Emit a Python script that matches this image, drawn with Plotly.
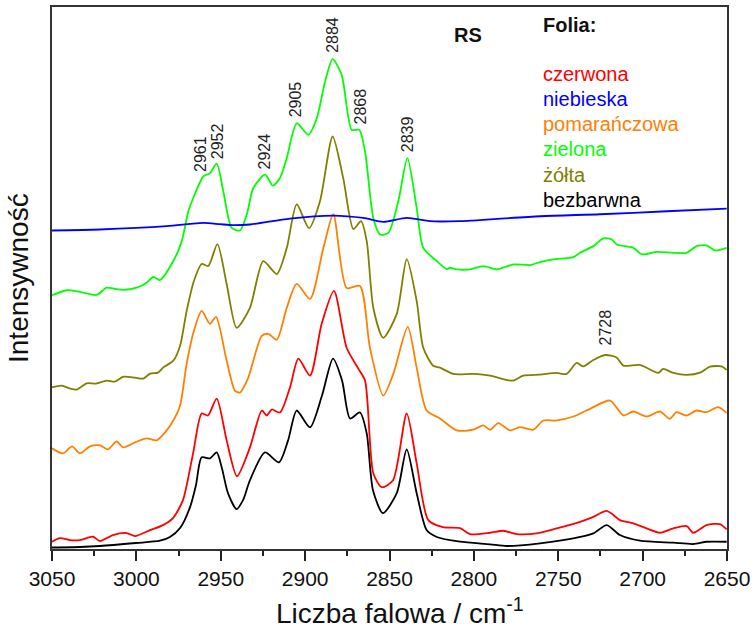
import plotly.graph_objects as go

# ---------------- data (arbitrary intensity units) ----------------
series_names = ["czerwona", "niebieska", "pomarańczowa", "zielona", "żółta", "bezbarwna"]

black_x = [3050, 3033.4, 3021.6, 3000.2, 2986, 2980.1, 2974.1, 2968.2, 2964.7, 2961.3, 2956.4, 2952.4,
           2949.3, 2945.7, 2940.6, 2936.8, 2932.7, 2923.8, 2915.5, 2910.1, 2905, 2897.1, 2890, 2883.5,
           2878.1, 2873.4, 2867.5, 2863.5, 2859.8, 2853.9, 2845.7, 2839.8, 2833.9, 2828, 2822, 2808.2,
           2790.4, 2780.5, 2760.8, 2741.1, 2729.2, 2721.3, 2713.4, 2701.6, 2681.8, 2670, 2662.1, 2650.2]
black_y = [1.5, 2, 3, 6, 8.3, 12, 21, 42, 64, 92, 91, 97,
           81, 56, 40, 49, 69, 97, 87, 109, 139, 122, 154, 191,
           169, 131, 137, 116, 59, 36, 56, 100, 56, 19, 12, 7.3,
           4.7, 3, 5.7, 10.7, 15.7, 24, 14, 8.3, 6.3, 5, 7.3, 7.3]

red_x = [3050, 3045.3, 3039.3, 3033.4, 3025.7, 3021.6, 3013.9, 3005.7, 3000.8, 2991.9, 2984.2, 2978.3,
         2972.4, 2966.4, 2961.3, 2957.6, 2952.4, 2946.5, 2940.4, 2932.7, 2925.7, 2922.8, 2919.8, 2914.9,
         2909, 2904, 2897.1, 2890.2, 2882.9, 2875.4, 2868.5, 2864.5, 2859.6, 2854.6, 2847.9, 2839.8,
         2833.9, 2827, 2818.3, 2808.2, 2802.3, 2790.4, 2782.6, 2774.6, 2762.8, 2750.9, 2737.1, 2729.2,
         2721.3, 2713.4, 2705.5, 2697.6, 2689.7, 2681.8, 2673.9, 2670, 2662.1, 2654.2, 2650.2]
red_y = [7.3, 11, 9, 9, 12.3, 8, 14, 16, 13, 19, 24, 31,
         49, 96, 136, 134, 151, 109, 73, 102, 139, 134, 140, 137,
         162, 191, 174, 226, 259, 202, 181, 169, 76, 62, 69, 136,
         86, 29, 22, 21, 15, 16.3, 18.3, 15, 15.7, 20.7, 27.3, 32.3,
         38.3, 29, 25.7, 20.7, 16.3, 20.7, 23, 16.3, 24, 25, 19.7]

orange_x = [3050, 3043.5, 3038.1, 3033.4, 3027.5, 3021.6, 3016.8, 3011.7, 3007.9, 3000.8, 2993.9, 2988,
            2983, 2978.1, 2974.1, 2970.2, 2965.9, 2961.3, 2956.4, 2952.8, 2946.5, 2941.6, 2938.6, 2933.7,
            2925.7, 2921.8, 2916.8, 2910.9, 2905, 2897.1, 2889.2, 2883.3, 2875.4, 2867.5, 2861.6, 2853.7,
            2847.7, 2839.2, 2833.9, 2828, 2820.1, 2810.2, 2800.4, 2794.4, 2790.4, 2785.5, 2778.6, 2772.7,
            2764.8, 2758.8, 2750.9, 2741.1, 2731.2, 2719.3, 2711.4, 2705.5, 2697.6, 2689.7, 2683.9, 2679.9,
            2674, 2668.1, 2662.1, 2655.3, 2650.2]
orange_y = [101, 96, 103, 96, 103, 104, 100, 108, 102, 107, 111, 109,
            117, 129, 144, 186, 219, 239, 226, 233, 189, 159, 157, 172,
            214, 216, 210, 242, 266, 251, 302, 336, 262, 264, 202, 154,
            176, 223, 182, 139, 131, 119, 119.7, 124, 119.7, 126.3, 119, 122.3,
            119.7, 129, 129, 133, 140.7, 149, 134, 138, 133, 138, 130.7, 137.3,
            134, 139, 137.3, 142.3, 136.3]

green_x = [3050, 3041.3, 3033.4, 3023.5, 3017.6, 3012.7, 3007.7, 2999.8, 2993.9, 2990, 2986, 2978.1,
           2973.1, 2969.2, 2966.3, 2960.3, 2956.4, 2952.4, 2948.5, 2943.5, 2938.6, 2934.6, 2930.7, 2923.7,
           2919.2, 2914.9, 2910.9, 2905, 2898.1, 2893.1, 2888.2, 2883.7, 2878.3, 2872.4, 2867.9, 2864.5,
           2859.6, 2855.6, 2850.7, 2844.8, 2839.4, 2833.9, 2830, 2822, 2816.1, 2814.2, 2810.2, 2802.3,
           2794.4, 2786.5, 2776.6, 2766.8, 2760.8, 2752.9, 2741.1, 2737.1, 2729.2, 2723.3, 2718.3, 2715.4,
           2705.5, 2700.5, 2691.7, 2681.8, 2673.9, 2668, 2662.1, 2657.2, 2650.2]
green_y = [254.7, 259.7, 258, 255, 262.3, 261, 260, 262.3, 267.3, 273, 270, 289,
           309, 339, 352.3, 374, 377.3, 386.7, 359, 322.3, 319.7, 335.7, 362.3, 375.7,
           364.7, 372.3, 392.3, 427.3, 415.7, 432.3, 469, 491.7, 475.7, 420.7, 420.7, 399,
           332.3, 315.7, 317.3, 349, 392.3, 342.3, 302.3, 289, 281, 282.3, 280.7, 280.7,
           284, 280.7, 285.7, 285, 288, 290.7, 293, 297.3, 304, 311.7, 310.7, 305.7,
           302.3, 295.7, 298.3, 297.3, 297.3, 304, 304.7, 299.7, 302.3]

olive_x = [3050, 3044.3, 3039.3, 3035.4, 3029.4, 3023.9, 3017.6, 3012.7, 3007.7, 3000.8, 2995.9, 2991.9,
           2987.2, 2984, 2978.1, 2974.1, 2970.2, 2965.9, 2961.3, 2957.4, 2952, 2946.5, 2940.6, 2932.7,
           2924.8, 2916.8, 2910.9, 2905, 2897.7, 2891.2, 2883.7, 2877.4, 2871.4, 2866.9, 2863.5, 2859.6,
           2853.7, 2845.7, 2839.8, 2833.9, 2830, 2824.1, 2820.1, 2812.2, 2800.4, 2790.4, 2780.5, 2776.6,
           2770.7, 2760.8, 2750.9, 2745, 2739.1, 2735.1, 2729.2, 2722.3, 2715.4, 2711.4, 2701.6, 2690.7,
           2687.8, 2681.8, 2673.9, 2665.5, 2660.1, 2653.2, 2650.2]
olive_y = [162.3, 164, 161, 160, 166.3, 166, 169, 168, 173, 172, 171, 176,
           177, 182.3, 189, 204, 239, 269, 286, 284, 306, 266, 222, 242,
           289, 276, 302, 346, 322, 349, 414, 372, 321, 329, 309, 242,
           212, 236, 291, 249, 202, 184, 182, 175.7, 175.7, 174, 169.7, 169,
           174, 175, 176.7, 175.7, 186.7, 183.3, 189.7, 194.7, 192.3, 184, 184.7, 176.7,
           180.7, 176.7, 174.7, 177.3, 183, 183.3, 179.7]

blue_x = [3050, 3021.6, 2982, 2960.3, 2950.4, 2942.6, 2932.7, 2909, 2883.3, 2865.5, 2853.7, 2839.8,
          2826, 2808.2, 2802.3, 2760.8, 2725.3, 2685.7, 2650.2]
blue_y = [319.7, 320.7, 324, 327.3, 326, 325, 325.7, 331.7, 334.7, 332.3, 328.3, 332.3,
          329, 329, 329.5, 334, 336, 339, 341.7]

x_tick_values = [3050, 3000, 2950, 2900, 2850, 2800, 2750, 2700, 2650]
x_tick_labels = ["3050", "3000", "2950", "2900", "2850", "2800", "2750", "2700", "2650"]

peak_labels = ["2961", "2952", "2924", "2905", "2884", "2868", "2839", "2728"]

# ---------------- styling / positions ----------------
peak_label_x = [2962, 2951.8, 2923.8, 2905.6, 2883.5, 2867, 2839.2, 2721.9]
peak_label_y = [396, 409, 399, 451, 516, 444, 416, 222]

colors = {"czerwona": "#FF0000", "niebieska": "#0000FF", "pomarańczowa": "#FF8000",
          "zielona": "#00FF00", "żółta": "#808000", "bezbarwna": "#000000"}

FONT = "Arial, Liberation Sans, sans-serif"

series = [
    ("bezbarwna", black_x, black_y),
    ("czerwona", red_x, red_y),
    ("pomarańczowa", orange_x, orange_y),
    ("żółta", olive_x, olive_y),
    ("zielona", green_x, green_y),
    ("niebieska", blue_x, blue_y),
]

fig = go.Figure()
for name, xs, ys in series:
    fig.add_trace(go.Scatter(
        x=xs, y=ys, name=name, mode="lines",
        line=dict(color=colors[name], width=1.8, shape="spline", smoothing=0.7),
        showlegend=False, hoverinfo="x+y+name",
    ))

annotations = []
for txt, px_, py_ in zip(peak_labels, peak_label_x, peak_label_y):
    annotations.append(dict(x=px_, y=py_, xref="x", yref="y", text=txt, showarrow=False,
                            textangle=-90, xanchor="center", yanchor="middle",
                            font=dict(family=FONT, size=16, color="#222222")))

# plot area in pixels: x 52..727, y 5..549
def px_to_paper_x(px):
    return (px - 52) / 675.0

def px_to_paper_y(py):
    return (549 - py) / 544.0

annotations.append(dict(x=px_to_paper_x(468), y=px_to_paper_y(33), xref="paper", yref="paper",
                        text="<b>RS</b>", showarrow=False, xanchor="center", yanchor="middle",
                        font=dict(family=FONT, size=20, color="#111111")))
annotations.append(dict(x=px_to_paper_x(541), y=px_to_paper_y(23), xref="paper", yref="paper",
                        text="<b>Folia:</b>", showarrow=False, xanchor="left", yanchor="middle",
                        font=dict(family=FONT, size=20, color="#111111")))
for i, name in enumerate(series_names):
    annotations.append(dict(x=px_to_paper_x(541), y=px_to_paper_y(72 + 25.3 * i), xref="paper", yref="paper",
                            text=name, showarrow=False, xanchor="left", yanchor="middle",
                            font=dict(family=FONT, size=20, color=colors[name])))

# axis titles
annotations.append(dict(x=px_to_paper_x(400), y=0, xref="paper", yref="paper",
                        text="Liczba falowa / cm<sup>-1</sup>", showarrow=False,
                        xanchor="center", yanchor="middle", yshift=-62,
                        font=dict(family=FONT, size=28, color="#111111")))
annotations.append(dict(x=0, y=0.5, xref="paper", yref="paper",
                        text="Intensywność", showarrow=False, textangle=-90,
                        xanchor="center", yanchor="middle", xshift=-34,
                        font=dict(family=FONT, size=28, color="#111111")))

fig.update_layout(
    width=755, height=632,
    margin=dict(l=52, r=28, t=5, b=83),
    paper_bgcolor="white", plot_bgcolor="white",
    annotations=annotations,
    font=dict(family=FONT, color="#111111"),
)
fig.update_xaxes(
    range=[3050, 2650], tickmode="array", tickvals=x_tick_values, ticktext=x_tick_labels,
    ticks="outside", ticklen=10, tickwidth=1.5, tickcolor="#222222",
    minor=dict(dtick=25, ticks="outside", ticklen=5, tickwidth=1.5, tickcolor="#222222"),
    showline=True, linecolor="#333333", linewidth=2, mirror=True,
    showgrid=False, zeroline=False,
    tickfont=dict(family=FONT, size=21, color="#111111"),
)
fig.update_yaxes(
    range=[0, 544], showticklabels=False, ticks="",
    showline=True, linecolor="#333333", linewidth=2, mirror=True,
    showgrid=False, zeroline=False,
)

fig.write_html("out.html", config={"displayModeBar": False},
               post_script="document.body.style.margin='0';document.body.style.overflow='hidden';")
